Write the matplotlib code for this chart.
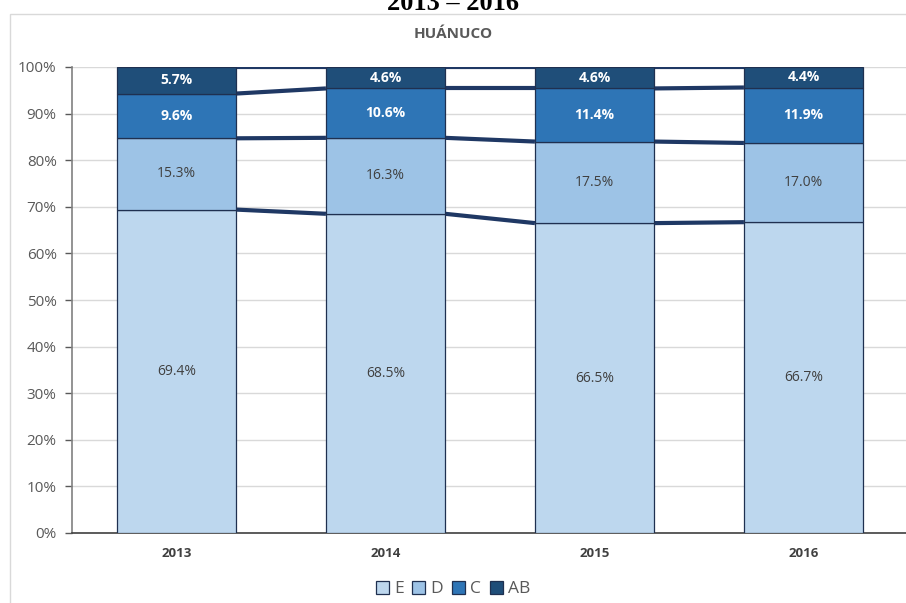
import matplotlib
matplotlib.use("Agg")
import matplotlib.pyplot as plt
from matplotlib.patches import Rectangle
import numpy as np

years = ["2013", "2014", "2015", "2016"]
series_names = ["E", "D", "C", "AB"]
E = [69.4, 68.5, 66.5, 66.7]
D = [15.3, 16.3, 17.5, 17.0]
C = [9.6, 10.6, 11.4, 11.9]
AB = [5.7, 4.6, 4.6, 4.4]
yticks = [0, 10, 20, 30, 40, 50, 60, 70, 80, 90, 100]

colors = ["#BDD7EE", "#9DC3E6", "#2E75B6", "#1F4E79"]
label_colors = ["#404040", "#404040", "white", "white"]
label_weights = ["normal", "normal", "bold", "bold"]
edge = "#1F3050"

plt.rcParams['font.family'] = ['Open Sans', 'DejaVu Sans']

fig = plt.figure(figsize=(9.06, 6.03), dpi=100)
# outer chart frame
fig.patches.append(Rectangle((10/906, -0.05), 0.995, (603-14)/603 + 0.05, transform=fig.transFigure,
                             fill=False, edgecolor="#D9D9D9", linewidth=1.0))
fig.text(0.5, 1 - 3/603, "2013 – 2016", ha="center", va="center",
         fontsize=19, fontweight="bold", family="Liberation Serif", color="black")
fig.text(0.5, 1 - 34/603, "HUÁNUCO", ha="center", va="center",
         fontsize=11, fontweight="bold", color="#595959")

ax = fig.add_axes([72/906, 70/603, 836/906, 466/603])
x = np.arange(len(years))
w = 0.57
data = [E, D, C, AB]
bottom = np.zeros(len(years))
for k, vals in enumerate(data):
    vals = np.array(vals)
    ax.bar(x, vals, w, bottom=bottom, color=colors[k], edgecolor=edge, linewidth=0.9,
           label=series_names[k], zorder=3)
    for i in range(len(years)):
        ax.text(x[i], bottom[i] + vals[i] / 2, f"{vals[i]:.1f}%", ha="center", va="center",
                fontsize=10, color=label_colors[k], fontweight=label_weights[k], zorder=5)
    top = bottom + vals
    for i in range(len(years) - 1):
        ax.plot([x[i] + w/2, x[i+1] - w/2], [top[i], top[i+1]], color="#1F3864",
                linewidth=3, solid_capstyle="butt", zorder=2)
    bottom = top

ax.set_xlim(-0.5, len(years) - 0.5)
ax.set_ylim(0, 100)
ax.set_yticks(yticks)
ax.set_yticklabels([f"{t}%" for t in yticks], fontsize=11, color="#595959")
ax.set_xticks(x)
ax.set_xticklabels(years, fontsize=9.5, fontweight="bold", color="#404040")
ax.tick_params(axis="x", length=0, pad=10)
ax.tick_params(axis="y", length=5, width=1, color="#595959", pad=6)
ax.grid(axis="y", color="#D9D9D9", linewidth=1, zorder=0)
ax.set_axisbelow(True)
for s in ["top", "right"]:
    ax.spines[s].set_visible(False)
ax.spines["left"].set_color("#808080")
ax.spines["left"].set_linewidth(1.2)
ax.spines["bottom"].set_color("#404040")
ax.spines["bottom"].set_linewidth(1.2)

handles, labels = ax.get_legend_handles_labels()
leg = fig.legend(handles, labels, loc="center", bbox_to_anchor=(0.5, 1 - 589/603), ncol=4,
                 frameon=False, fontsize=12.5, handlelength=0.75, handleheight=0.75,
                 handletextpad=0.3, columnspacing=0.5, labelcolor="#595959")

fig.savefig("out.png", dpi=100)
